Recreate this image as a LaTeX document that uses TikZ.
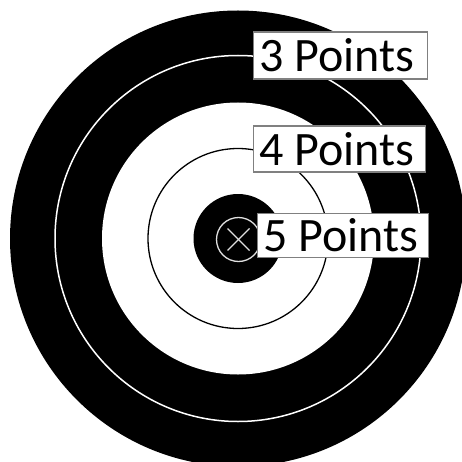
\documentclass[tikz,border=0pt]{standalone}
\usepackage{fontspec}
\setmainfont{Carlito}
\begin{document}
\begin{tikzpicture}[x=1pt,y=-1pt,
  ptlabel/.style={draw=black!50, line width=1.2pt, fill=white, anchor=west,
    inner xsep=6pt, inner ysep=0pt,
    minimum height=#1, font=\fontsize{48}{56}\selectfont},
  ptlabel/.default=46pt]
\useasboundingbox (0,0) rectangle (462,462);
\coordinate (c) at (238,238.5);
% rings
\fill[black] (c) circle[radius=228];
\fill[white] (c) circle[radius=136];
\draw[white, line width=1.5pt] (c) circle[radius=183];
\draw[black, line width=1.3pt] (c) circle[radius=90];
\fill[black] (c) circle[radius=44.5];
% center mark
\node[circle, draw=black!12, line width=1.3pt, minimum size=44pt, inner sep=0pt] (bull) at (238.5,239.5) {};
\draw[black!12, line width=1.3pt] ([shift={(-11,-11)}]bull.center) -- ([shift={(11,11)}]bull.center);
\draw[black!12, line width=1.3pt] ([shift={(-11,11)}]bull.center) -- ([shift={(11,-11)}]bull.center);
% labels
\node[ptlabel=47pt] (l3) at (253,55.5) {\makebox[162pt][l]{3 Points}};
\node[ptlabel=46pt] (l4) at (253,149) {\makebox[160pt][l]{4 Points}};
\node[ptlabel=44pt] (l5) at (257,235.5) {\makebox[159pt][l]{5 Points}};
\end{tikzpicture}
\end{document}
